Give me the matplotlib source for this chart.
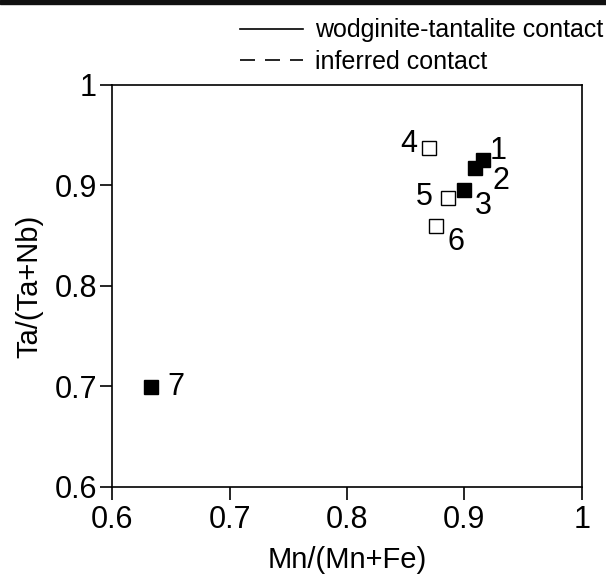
import matplotlib
matplotlib.use("Agg")
import matplotlib.pyplot as plt
from matplotlib.lines import Line2D
from matplotlib.patches import Rectangle

plt.rcParams['font.family'] = ['Liberation Sans', 'DejaVu Sans']

# sample data
labels = ['1', '2', '3', '4', '5', '6', '7']
mn_ratio = [0.916, 0.909, 0.900, 0.870, 0.886, 0.876, 0.633]
ta_ratio = [0.925, 0.917, 0.895, 0.937, 0.887, 0.860, 0.699]
filled = [True, True, True, False, False, False, True]

# label offsets in points (text placement only)
offsets = {'1': (11, 7), '2': (19, -9), '3': (14, -11), '4': (-15, 3),
           '5': (-17, 1), '6': (14, -12), '7': (18, 0)}

fig = plt.figure(figsize=(6.06, 5.77), dpi=100)
ax = fig.add_axes([0.185, 0.156, 0.775, 0.697])

for lab, x, y, f in zip(labels, mn_ratio, ta_ratio, filled):
    if f:
        ax.plot(x, y, 's', color='black', markersize=10, zorder=3)
    else:
        ax.plot(x, y, 's', markerfacecolor='white', markeredgecolor='black',
                markeredgewidth=1.0, markersize=9.5, zorder=3)
    dx, dy = offsets[lab]
    ax.annotate(lab, (x, y), xytext=(dx, dy), textcoords='offset points',
                fontsize=22, ha='center', va='center')

ax.set_xlim(0.6, 1.0)
ax.set_ylim(0.6, 1.0)
ax.set_xticks([0.6, 0.7, 0.8, 0.9, 1.0])
ax.set_xticklabels(['0.6', '0.7', '0.8', '0.9', '1'])
ax.set_yticks([0.6, 0.7, 0.8, 0.9, 1.0])
ax.set_yticklabels(['0.6', '0.7', '0.8', '0.9', '1'])
ax.tick_params(direction='out', length=9, width=1.2, labelsize=22, pad=2)
ax.tick_params(axis='x', pad=4)
for s in ax.spines.values():
    s.set_linewidth(1.2)

ax.set_xlabel('Mn/(Mn+Fe)', fontsize=21, labelpad=8)
ax.set_ylabel('Ta/(Ta+Nb)', fontsize=21, labelpad=8)

handles = [Line2D([], [], color='black', lw=1.2, linestyle='-'),
           Line2D([], [], color='black', lw=1.2, linestyle=(0, (9, 6)))]
fig.legend(handles, ['wodginite-tantalite contact', 'inferred contact'],
           loc='upper right', bbox_to_anchor=(1.033, 1.007), frameon=False,
           fontsize=18, handlelength=2.5, handletextpad=0.5, labelspacing=0.3)

# dark strip along the top edge of the scanned figure
fig.patches.append(Rectangle((0, 0.993), 1, 0.007, transform=fig.transFigure,
                             color='#111111', zorder=10))

fig.savefig('out.png', dpi=100)
